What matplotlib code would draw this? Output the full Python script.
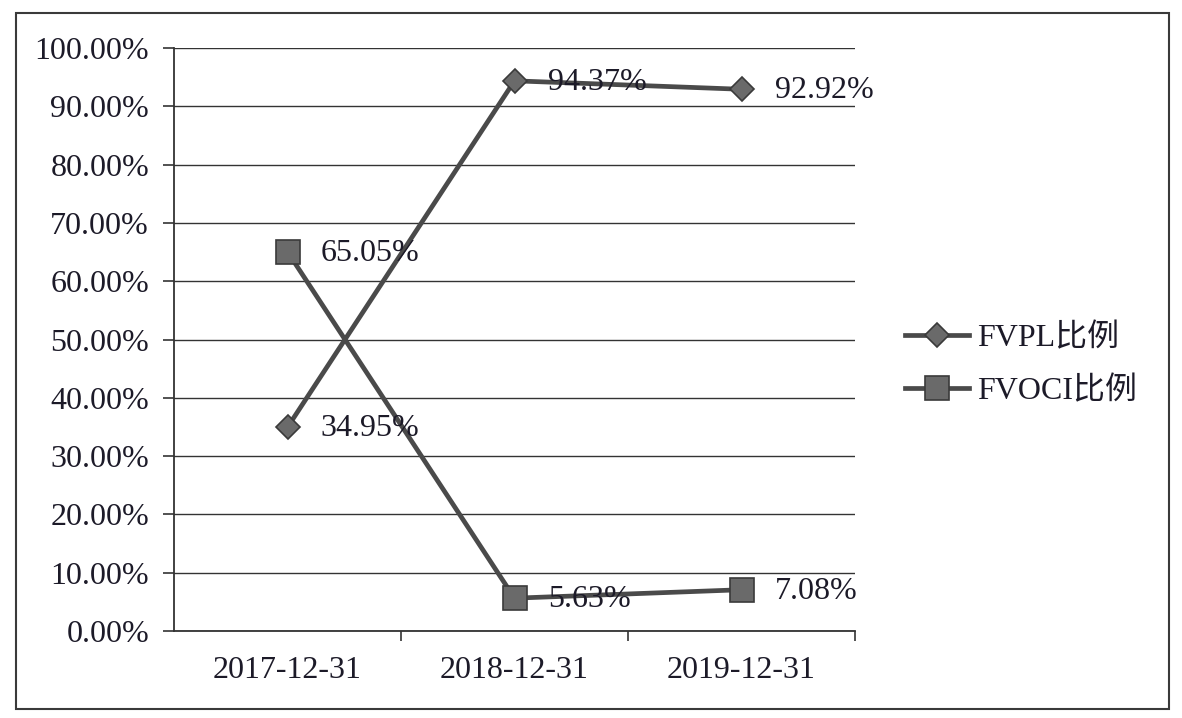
import matplotlib
matplotlib.use("Agg")
import matplotlib.pyplot as plt
from matplotlib.patches import Rectangle
from matplotlib.ticker import FuncFormatter, MultipleLocator

categories = ["2017-12-31", "2018-12-31", "2019-12-31"]
fvpl = [34.95, 94.37, 92.92]
fvoci = [65.05, 5.63, 7.08]
series_names = ["FVPL比例", "FVOCI比例"]

W, H = 1182, 718
fig = plt.figure(figsize=(W / 100, H / 100), dpi=100)
fig.patch.set_facecolor("white")

fam = ["Liberation Serif", "Noto Sans CJK SC"]
txt = "#1c1a28"
line_c = "#4a4a4a"
mark_c = "#6a6a6a"
FS = 23

# axes position in pixels
x0, x1 = 174, 855
y0, y1 = 631, 48
ax = fig.add_axes([x0 / W, 1 - y0 / H, (x1 - x0) / W, (y0 - y1) / H])

xs = list(range(len(categories)))
l1, = ax.plot(xs, fvpl, color=line_c, lw=3.4, marker="D", ms=12,
              mfc=mark_c, mec="#3a3a3a", mew=1.2, zorder=4)
l2, = ax.plot(xs, fvoci, color=line_c, lw=3.4, marker="s", ms=17,
              mfc=mark_c, mec="#3a3a3a", mew=1.2, zorder=4)

for x, v in zip(xs, fvpl):
    ax.annotate(f"{v:.2f}%", (x, v), xytext=(24, -1), textcoords="offset points",
                ha="left", va="center", fontsize=FS, family=fam, color=txt, zorder=5)
for x, v in zip(xs, fvoci):
    ax.annotate(f"{v:.2f}%", (x, v), xytext=(24, -1), textcoords="offset points",
                ha="left", va="center", fontsize=FS, family=fam, color=txt, zorder=5)

ax.set_xlim(-0.5, len(categories) - 0.5)
ax.set_ylim(0, 100)
ax.yaxis.set_major_locator(MultipleLocator(10))
ax.yaxis.set_major_formatter(FuncFormatter(lambda v, p: f"{v:.2f}%"))
ax.grid(axis="y", color="#333333", lw=1.0)
ax.set_axisbelow(True)

ax.set_xticks(xs)
ax.set_xticklabels(categories)
ax.set_xticks([0.5, 1.5, 2.5], minor=True)
ax.tick_params(axis="x", which="major", length=0, pad=18)
ax.tick_params(axis="x", which="minor", length=7, width=1.2, direction="out", color="#333333")
ax.tick_params(axis="y", length=8, width=1.2, direction="out", color="#333333", pad=10)
for lab in ax.get_xticklabels() + ax.get_yticklabels():
    lab.set_family(fam)
    lab.set_fontsize(FS)
    lab.set_color(txt)

for s in ["top", "right"]:
    ax.spines[s].set_visible(False)
ax.spines["left"].set_color("#333333")
ax.spines["left"].set_linewidth(1.3)
ax.spines["bottom"].set_color("#333333")
ax.spines["bottom"].set_linewidth(1.3)

leg = fig.legend([l1, l2], series_names, loc="center left",
                 bbox_to_anchor=(876 / W, 1 - 365 / H), frameon=False,
                 prop={"family": fam, "size": FS}, labelcolor=txt,
                 handlelength=2.0, handletextpad=0.25, labelspacing=0.75)

# outer border
fig.add_artist(Rectangle((16 / W, 1 - 709 / H), (1169 - 16) / W, (709 - 13) / H,
                         transform=fig.transFigure, fill=False,
                         edgecolor="#3a3a3a", lw=1.5))

fig.savefig("out.png", dpi=100, facecolor="white")
